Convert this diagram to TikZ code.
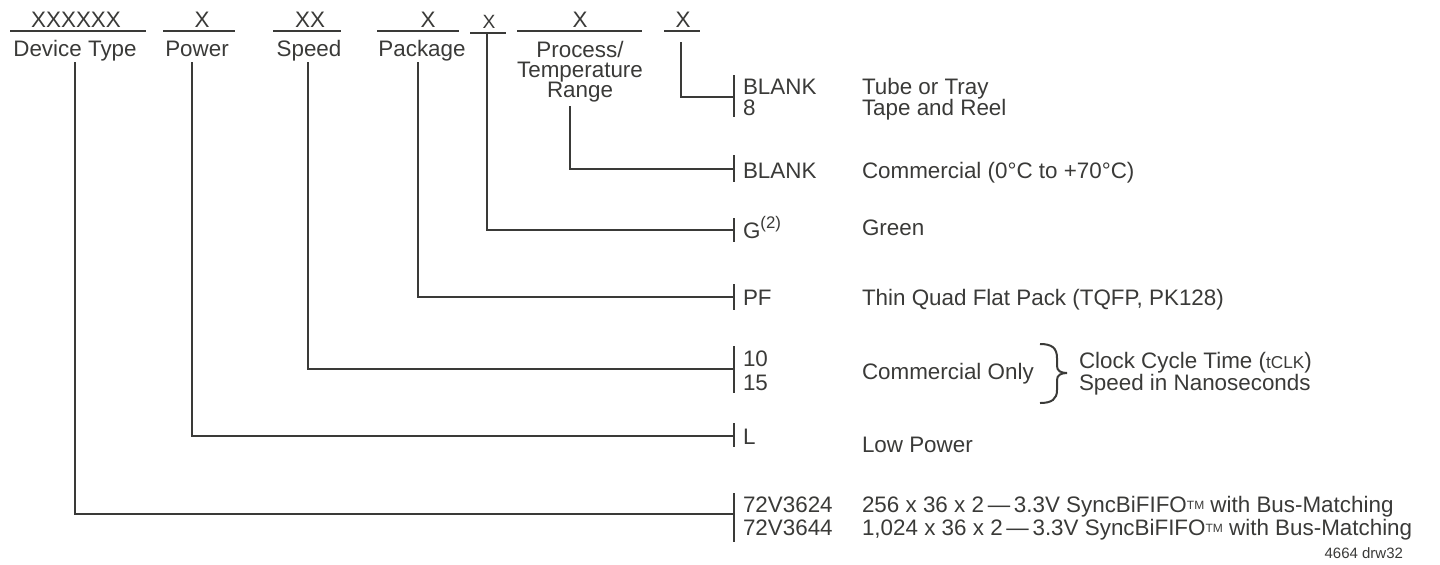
\documentclass[tikz,border=0pt]{standalone}
\usepackage{fontspec}
\setmainfont{Liberation Sans}
\definecolor{ink}{HTML}{3A3A38}
\newcommand{\tmark}{\raisebox{0.12em}{\fontsize{6pt}{6pt}\selectfont TM}}
\newcommand{\tightlines}{\lineskiplimit=-20pt\relax\lineskip=0pt\relax}
\begin{document}
\begin{tikzpicture}[x=0.5pt,y=-0.5pt,
  txt/.style={inner sep=0pt,outer sep=0pt,text=ink,font=\fontsize{11.2pt}{13pt}\selectfont},
  hdr/.style={txt,anchor=base},
  opt/.style={txt,anchor=base west},
  lead/.style={draw=ink,line width=1.3pt},
  tickmark/.style={draw=ink,line width=1.3pt},
  uline/.style={draw=ink,line width=1.3pt}]
\useasboundingbox (0,0) rectangle (1440,564);

% ---------- header ----------
\node[hdr] (hx1) at (76,27) {XXXXXX};
\draw[uline] (10,31) -- (146,31);
\node[hdr] (hn1) at (75,56) {Device Type};

\node[hdr] (hx2) at (202,27) {X};
\draw[uline] (163,31) -- (235,31);
\node[hdr] (hn2) at (197,56) {Power};

\node[hdr] (hx3) at (310,27) {XX};
\draw[uline] (273,31) -- (341,31);
\node[hdr] (hn3) at (309,56) {Speed};

\node[hdr] (hx4) at (428,27) {X};
\draw[uline] (377,31) -- (459,31);
\node[hdr] (hn4) at (422,56) {Package};

\node[hdr,font=\fontsize{9.6pt}{11pt}\selectfont] (hx5) at (489,28) {X};
\draw[uline] (470,33) -- (506,33);

\node[hdr] (hx6) at (580,27) {X};
\draw[uline] (517,31) -- (642,31);
\node[txt,anchor=north,align=center,
      font=\fontsize{11.2pt}{10pt}\selectfont\tightlines]
      (hn6) at (580,41) {Process/\\Temperature\\Range};

\node[hdr] (hx7) at (683,27) {X};
\draw[uline] (664,31) -- (700,31);

% ---------- lead start / end points ----------
\coordinate (s1) at (75,62);   \coordinate (t1) at (734,514);
\coordinate (s2) at (192,62);  \coordinate (t2) at (734,436);
\coordinate (s3) at (308,62);  \coordinate (t3) at (734,369);
\coordinate (s4) at (418,62);  \coordinate (t4) at (734,297);
\coordinate (s5) at (487,33);  \coordinate (t5) at (734,230);
\coordinate (s6) at (570,106); \coordinate (t6) at (734,169);
\coordinate (s7) at (681,42);  \coordinate (t7) at (734,97);

\draw[lead] (s1) |- (t1);
\draw[lead] (s2) |- (t2);
\draw[lead] (s3) |- (t3);
\draw[lead] (s4) |- (t4);
\draw[lead] (s5) |- (t5);
\draw[lead] (s6) |- (t6);
\draw[lead] (s7) |- (t7);

\draw[tickmark] (t1) ++(0,-21) -- ++(0,49);
\draw[tickmark] (t2) ++(0,-13) -- ++(0,24);
\draw[tickmark] (t3) ++(0,-23) -- ++(0,47);
\draw[tickmark] (t4) ++(0,-13) -- ++(0,26);
\draw[tickmark] (t5) ++(0,-12) -- ++(0,24);
\draw[tickmark] (t6) ++(0,-14) -- ++(0,27);
\draw[tickmark] (t7) ++(0,-22) -- ++(0,42);

% ---------- options ----------
\node[opt] (o7a) at (743,94) {BLANK};
\node[opt] (o7b) at (743,115) {8};
\node[opt] (d7a) at (862,94) {Tube or Tray};
\node[opt] (d7b) at (862,115) {Tape and Reel};

\node[opt] (o6) at (743,178) {BLANK};
\node[opt] (d6) at (862,178) {Commercial (0°C to +70°C)};

\node[opt] (o5) at (743,238) {G\raisebox{0.42em}{\fontsize{8.4pt}{9pt}\selectfont(2)}};
\node[opt] (d5) at (862,235) {Green};

\node[opt] (o4) at (743,305) {PF};
\node[opt] (d4) at (862,305) {Thin Quad Flat Pack (TQFP, PK128)};

\node[opt] (o3a) at (743,366) {10};
\node[opt] (o3b) at (743,390) {15};
\node[opt] (d3) at (862,379) {Commercial Only};
\draw[draw=ink,line width=1pt] (1040,344) .. controls (1052,344) and (1057,348) .. (1057,358)
  -- (1057,366) .. controls (1057,371) and (1061,373) .. (1067,373)
  .. controls (1061,373) and (1057,375) .. (1057,380)
  -- (1057,390) .. controls (1057,399) and (1052,403) .. (1040,403);
\node[opt] (d3b) at (1079,368) {Clock Cycle Time ({\fontsize{8.6pt}{10pt}\selectfont tCLK})};
\node[opt] (d3c) at (1079,390) {Speed in Nanoseconds};

\node[opt] (o2) at (743,444) {L};
\node[opt] (d2) at (862,452) {Low Power};

\node[opt] (o1a) at (743,512) {72V3624};
\node[opt] (o1b) at (743,535) {72V3644};
\node[opt] (d1a) at (862,512) {256 x 36 x 2\,—\,3.3V SyncBiFIFO\tmark{} with Bus-Matching};
\node[opt] (d1b) at (862,535) {1,024 x 36 x 2\,—\,3.3V SyncBiFIFO\tmark{} with Bus-Matching};

\node[txt,anchor=base east,font=\fontsize{7.5pt}{9pt}\selectfont] (drw) at (1403,558) {4664 drw32};
\end{tikzpicture}
\end{document}
